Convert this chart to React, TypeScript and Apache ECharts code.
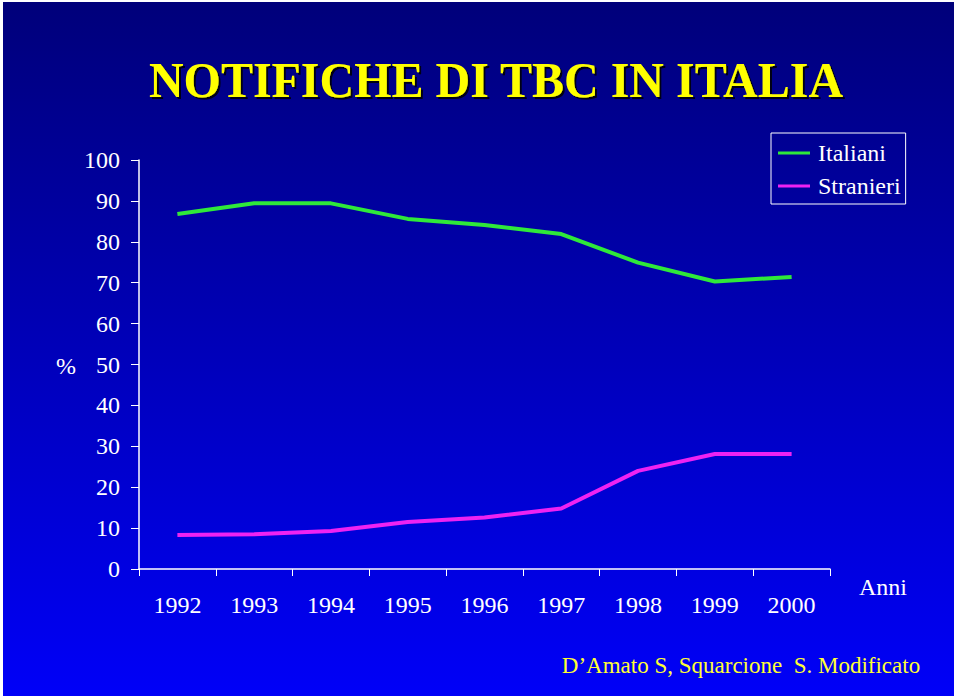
import React, { useEffect, useRef } from "react";
import * as echarts from "echarts";

const years = ["1992", "1993", "1994", "1995", "1996", "1997", "1998", "1999", "2000"];
const italiani = [86.8, 89.4, 89.4, 85.6, 84.1, 81.9, 74.9, 70.3, 71.4];
const stranieri = [8.3, 8.5, 9.3, 11.5, 12.6, 14.8, 24.0, 28.1, 28.1];
const seriesNames = ["Italiani", "Stranieri"];
const titleText = "NOTIFICHE DI TBC IN ITALIA";
const sourceText = "D\u2019Amato S, Squarcione  S. Modificato";
const yAxisName = "%";
const xAxisName = "Anni";

const FONT = "'Liberation Serif', 'Times New Roman', serif";
const GREEN = "#2fe83a";
const MAGENTA = "#ee22f2";

export default function App() {
  const ref = useRef<HTMLDivElement>(null);
  useEffect(() => {
    if (!ref.current) return;
    const chart = echarts.init(ref.current, undefined, { renderer: "svg" });
    chart.setOption({
      animation: false,
      backgroundColor: "#ffffff",
      textStyle: { fontFamily: FONT },
      graphic: [
        {
          type: "rect",
          z: -100,
          silent: true,
          shape: { x: 3, y: 2, width: 951, height: 694 },
          style: {
            fill: new echarts.graphic.LinearGradient(0, 0, 0, 1, [
              { offset: 0, color: "#00007a" },
              { offset: 1, color: "#0000f8" },
            ]),
          },
        },
        {
          type: "text",
          x: 496,
          y: 80,
          scaleY: 1.05,
          style: {
            text: titleText,
            fill: "#ffff00",
            font: `bold 48px ${FONT}`,
            textAlign: "center",
            textVerticalAlign: "middle",
            textShadowColor: "rgba(0,0,0,0.85)",
            textShadowOffsetX: 2,
            textShadowOffsetY: 2,
            textShadowBlur: 1,
          },
        },
        {
          type: "text",
          x: 66,
          y: 366,
          style: {
            text: yAxisName,
            fill: "#ffffff",
            font: `24px ${FONT}`,
            textAlign: "center",
            textVerticalAlign: "middle",
          },
        },
        {
          type: "text",
          x: 883,
          y: 587,
          style: {
            text: xAxisName,
            fill: "#ffffff",
            font: `24px ${FONT}`,
            textAlign: "center",
            textVerticalAlign: "middle",
          },
        },
        {
          type: "text",
          x: 741,
          y: 665,
          style: {
            text: sourceText,
            fill: "#ffff33",
            font: `23px ${FONT}`,
            textAlign: "center",
            textVerticalAlign: "middle",
          },
        },
      ],
      legend: {
        data: seriesNames,
        orient: "vertical",
        left: 771,
        top: 133,
        padding: [8, 5, 6, 7],
        itemGap: 9,
        itemWidth: 32,
        itemHeight: 3,
        icon: "rect",
        borderColor: "#ffffff",
        borderWidth: 1,
        textStyle: { color: "#ffffff", fontSize: 24, fontFamily: FONT, padding: [0, 0, 0, 3] },
      },
      grid: { left: 139, right: 129, top: 160, bottom: 130 },
      xAxis: {
        type: "category",
        data: years,
        boundaryGap: true,
        axisLine: { lineStyle: { color: "#ffffff", width: 1.5 } },
        axisTick: { show: true, length: 7, lineStyle: { color: "#ffffff" } },
        axisLabel: { color: "#ffffff", fontSize: 24, fontFamily: FONT, margin: 24 },
        splitLine: { show: false },
      },
      yAxis: {
        type: "value",
        min: 0,
        max: 100,
        interval: 10,
        axisLine: { show: true, lineStyle: { color: "#ffffff", width: 1.5 } },
        axisTick: { show: true, length: 8, lineStyle: { color: "#ffffff" } },
        axisLabel: { color: "#ffffff", fontSize: 24, fontFamily: FONT, margin: 19 },
        splitLine: { show: false },
      },
      series: [
        {
          name: seriesNames[0],
          type: "line",
          data: italiani,
          symbol: "none",
          color: GREEN,
          lineStyle: { width: 4, color: GREEN },
        },
        {
          name: seriesNames[1],
          type: "line",
          data: stranieri,
          symbol: "none",
          color: MAGENTA,
          lineStyle: { width: 4, color: MAGENTA },
        },
      ],
    });
    return () => chart.dispose();
  }, []);
  return (
    <div
      ref={ref}
      style={{ position: "fixed", left: 0, top: 0, width: 959, height: 699 }}
    />
  );
}
